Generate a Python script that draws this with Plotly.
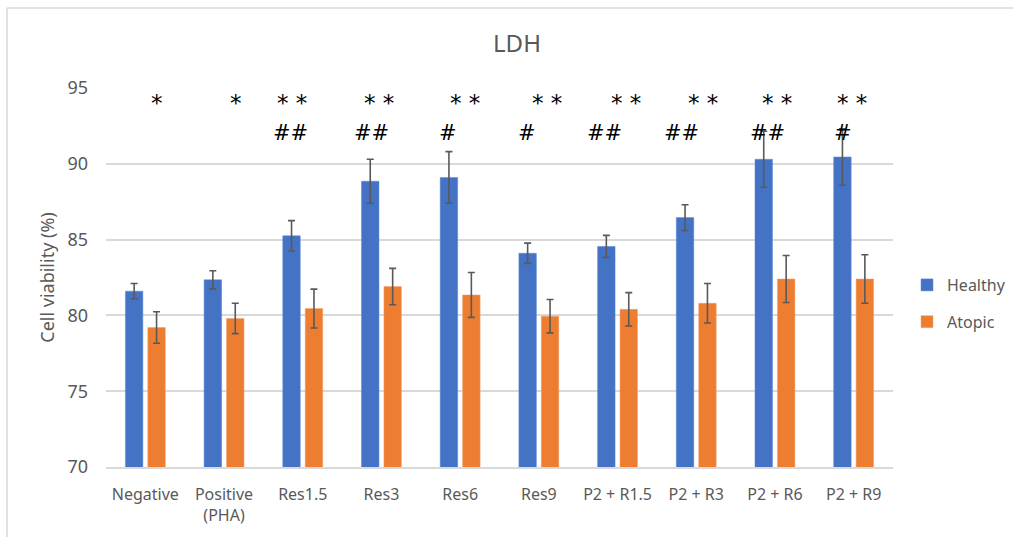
import plotly.graph_objects as go

categories = ["Negative", "Positive<br>(PHA)", "Res1.5", "Res3", "Res6", "Res9",
              "P2 + R1.5", "P2 + R3", "P2 + R6", "P2 + R9"]
healthy = [81.6, 82.35, 85.25, 88.85, 89.1, 84.1, 84.55, 86.45, 90.3, 90.45]
healthy_err = [0.5, 0.6, 1.0, 1.45, 1.7, 0.67, 0.73, 0.85, 1.85, 1.86]
atopic = [79.2, 79.8, 80.45, 81.9, 81.35, 79.95, 80.4, 80.8, 82.4, 82.4]
atopic_err = [1.04, 1.0, 1.28, 1.2, 1.48, 1.1, 1.1, 1.3, 1.55, 1.6]
star_labels = ["*", "*", "**", "**", "**", "**", "**", "**", "**", "**"]
hash_labels = ["", "", "##", "##", "#", "#", "##", "##", "##", "#"]
star_shift = [12, 12, -11, -2, 5, 8, 8, 7, 2, -2]
hash_shift = [0, 0, -12, -10, -12, -12, -13, -15, -7, -11]

FONT = "Noto Sans"
GRAY = "#595959"

W, H = 1013, 537
L, T, PW, PH = 106, 88, 787, 379

fig = go.Figure()
fig.add_trace(go.Bar(
    x=categories, y=healthy, name="Healthy", legendgroup="h",
    marker=dict(color="#4472C4", line=dict(color="#5B8BD9", width=0.5)),
    error_y=dict(type="data", array=healthy_err, color=GRAY, thickness=1.6, width=3.5),
))
fig.add_trace(go.Bar(
    x=categories, y=atopic, name="Atopic", legendgroup="a",
    marker=dict(color="#ED7D31", line=dict(color="#F4A06A", width=0.5)),
    error_y=dict(type="data", array=atopic_err, color=GRAY, thickness=1.6, width=3.5),
))

annotations = []
for c, s, sx in zip(categories, star_labels, star_shift):
    if s:
        annotations.append(dict(x=c, y=94.0, xref="x", yref="y", text=" ".join(s),
                                showarrow=False, xshift=sx,
                                font=dict(family="DejaVu Sans", size=23, color="black")))
for c, s, sx in zip(categories, hash_labels, hash_shift):
    if s:
        annotations.append(dict(x=c, y=92.0, xref="x", yref="y", text=s,
                                showarrow=False, xshift=sx,
                                font=dict(family="DejaVu Sans", size=21, color="black")))

bx0, bx1 = (7 - L) / PW, (W - L) / PW
by0, by1 = (T + PH - H) / PH, (T + PH - 8) / PH
border = dict(color="#D9D9D9", width=1.5)

fig.update_layout(
    width=W, height=H,
    margin=dict(l=L, r=W - L - PW, t=T, b=H - T - PH, autoexpand=False),
    paper_bgcolor="white", plot_bgcolor="white",
    font=dict(family=FONT, color=GRAY, size=16),
    title=dict(text="LDH", x=517 / W, xanchor="center", y=1 - 44 / H, yanchor="middle",
               font=dict(family=FONT, size=24, color=GRAY)),
    barmode="group", bargap=0.43, bargroupgap=0.22,
    showlegend=True,
    legend=dict(x=(907 - L) / PW, xanchor="left", y=(T + PH - 268) / PH, yanchor="top",
                font=dict(family=FONT, size=16, color=GRAY),
                tracegroupgap=13, itemwidth=30, bgcolor="rgba(0,0,0,0)"),
    annotations=annotations,
    shapes=[
        dict(type="line", xref="paper", yref="paper", x0=bx0, x1=bx1, y0=by1, y1=by1,
             line=border, layer="below"),
        dict(type="line", xref="paper", yref="paper", x0=bx0, x1=bx0, y0=by0, y1=by1,
             line=border, layer="below"),
    ],
)
fig.update_xaxes(showgrid=False, showline=True, linecolor="#D9D9D9", linewidth=1.5,
                 ticks="", tickfont=dict(family=FONT, size=16, color=GRAY), ticklabelstandoff=12)
fig.update_yaxes(range=[70, 95], dtick=5, showgrid=True, gridcolor="#D9D9D9", gridwidth=1.5,
                 zeroline=False, showline=False, ticks="",
                 tickfont=dict(family=FONT, size=18, color=GRAY), ticklabelstandoff=17,
                 title=dict(text="Cell viability (%)", standoff=8,
                            font=dict(family=FONT, size=18, color=GRAY)))

fig.write_html("out.html", config={"displayModeBar": False},
               post_script="document.body.style.margin='0';")
